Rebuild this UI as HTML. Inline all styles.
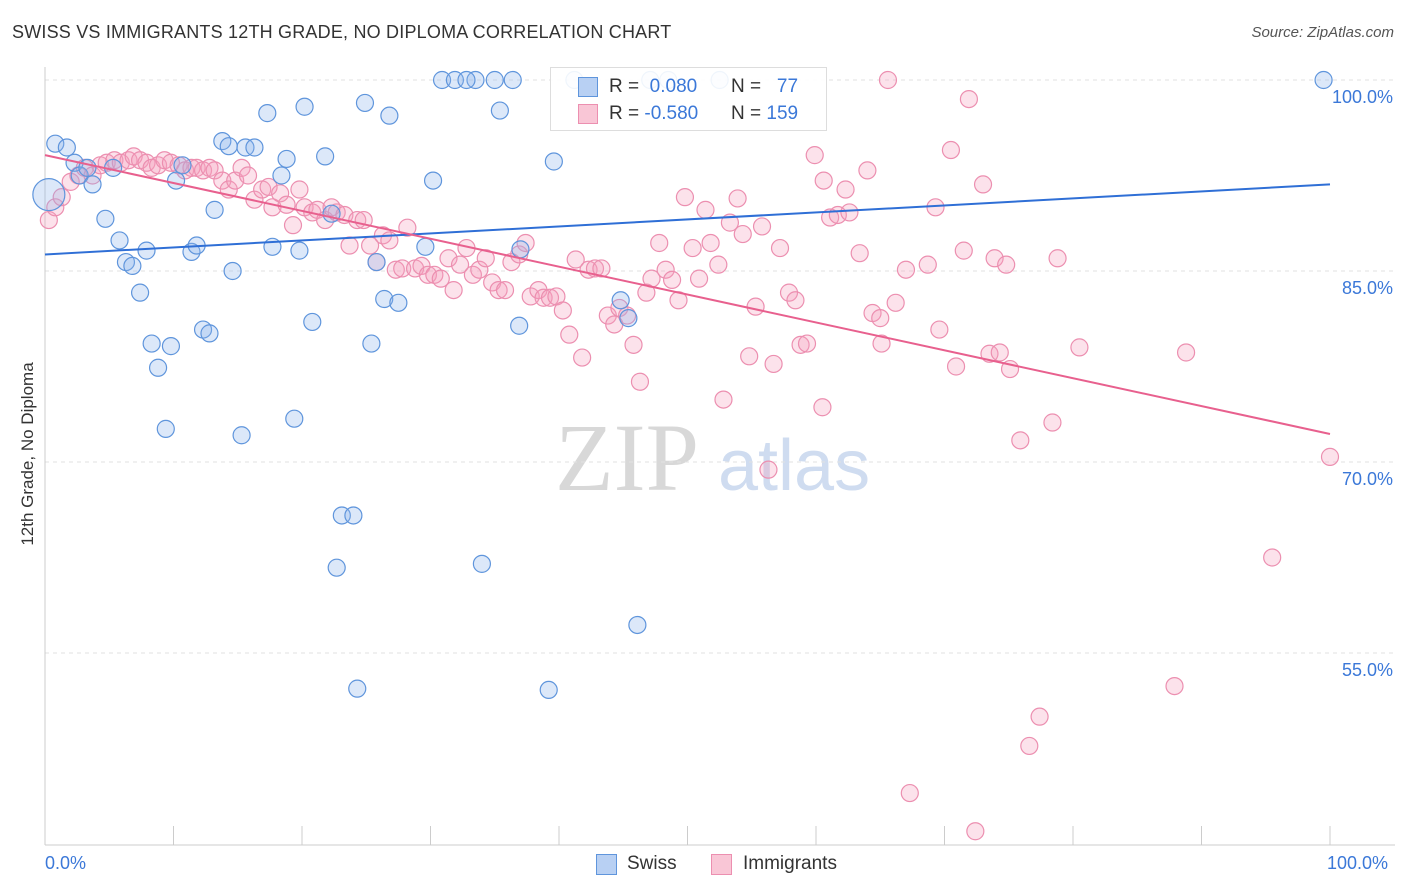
<!DOCTYPE html>
<html><head><meta charset="utf-8"><style>
body{margin:0;background:#fff;font-family:"Liberation Sans",sans-serif;}
#wrap{position:relative;width:1406px;height:892px;overflow:hidden;}
.t{position:absolute;white-space:nowrap;}
</style></head><body>
<div id="wrap">
<div class="t" style="left:12px;top:22px;font-size:18px;color:#333;letter-spacing:0.2px">SWISS VS IMMIGRANTS 12TH GRADE, NO DIPLOMA CORRELATION CHART</div>
<div class="t" style="right:12px;top:24px;font-size:15px;color:#555;font-style:italic">Source: ZipAtlas.com</div>
<svg id="svg" width="1406" height="892" style="position:absolute;left:0;top:0"></svg>
</div>
<script>
const swissX=[0.8,1.7,2.3,2.7,3.3,3.7,4.7,5.3,5.8,6.3,6.8,7.4,7.9,8.3,8.8,9.4,9.8,10.2,10.7,11.4,11.8,12.3,12.8,13.2,13.8,14.3,14.6,15.3,15.6,16.3,17.3,17.7,18.4,18.8,19.4,19.8,20.2,20.8,21.8,22.3,22.7,23.1,24.0,24.3,24.9,25.4,25.8,26.4,26.8,27.5,29.6,30.2,30.9,31.9,33.5,34.0,35.0,35.4,36.4,36.9,37.0,39.2,39.6,41.2,44.8,45.4,46.1,47.1,48.5,99.5,0.3,32.8,52.5];
const swissY=[95.0,94.7,93.5,92.5,93.1,91.8,89.1,93.1,87.4,85.7,85.4,83.3,86.6,79.3,77.4,72.6,79.1,92.1,93.3,86.5,87.0,80.4,80.1,89.8,95.2,94.8,85.0,72.1,94.7,94.7,97.4,86.9,92.5,93.8,73.4,86.6,97.9,81.0,94.0,89.5,61.7,65.8,65.8,52.2,98.2,79.3,85.7,82.8,97.2,82.5,86.9,92.1,100,100,100,62.0,100,97.6,100,80.7,86.7,52.1,93.6,100,82.7,81.3,57.2,100,100,100,91.0,100,100];
const immX=[
0.3,0.8,1.3,2.0,2.6,3.1,3.7,4.3,4.8,5.4,
5.9,6.5,6.9,7.4,7.9,8.3,8.8,9.3,9.8,10.4,
10.9,11.4,11.8,12.3,12.8,13.2,13.8,14.3,14.8,15.3,
15.8,16.3,16.9,17.4,17.7,18.3,18.8,19.3,19.8,20.2,
20.8,21.2,21.8,22.3,22.7,23.3,23.7,24.3,24.8,25.3,
25.8,26.3,26.8,27.3,27.8,28.2,28.8,29.3,29.8,30.3,
30.8,31.4,31.8,32.3,32.8,33.3,33.8,34.3,34.8,35.3,
35.8,36.3,36.9,37.4,37.8,38.4,38.8,39.3,39.8,40.3,
40.8,41.3,41.8,42.3,42.8,43.3,43.8,44.3,44.7,45.3,
45.8,46.3,46.8,47.2,47.8,48.3,48.8,49.3,49.8,50.4,
50.9,51.4,51.8,52.4,52.8,53.3,53.9,54.3,54.8,55.3,
55.8,56.3,56.7,57.2,57.9,58.4,58.8,59.3,59.9,60.5,
60.6,61.1,61.7,62.3,62.6,63.4,64.0,64.4,65.0,65.1,
65.6,66.2,67.0,67.3,68.7,69.3,69.6,70.5,70.9,71.5,
71.9,73.0,73.5,73.9,74.3,74.8,75.1,75.9,76.6,77.4,
78.4,78.8,80.5,87.9,88.8,95.5,100,72.4];
const immY=[
89.0,90.0,90.8,92.0,92.5,93.1,92.5,93.3,93.5,93.7,
93.5,93.7,94.0,93.7,93.5,93.1,93.3,93.7,93.5,93.3,
92.9,93.1,93.1,92.9,93.1,92.9,92.1,91.4,92.1,93.1,
92.5,90.6,91.4,91.6,90.0,91.1,90.2,88.6,91.4,90.0,
89.6,89.8,89.0,90.0,89.6,89.4,87.0,89.0,89.0,87.0,
85.7,87.8,87.4,85.1,85.2,88.4,85.2,85.4,84.7,84.7,
84.4,86.0,83.5,85.5,86.8,84.7,85.1,86.0,84.1,83.5,
83.5,85.7,86.3,87.2,83.0,83.5,82.9,82.9,83.0,81.9,
80.0,85.9,78.2,85.1,85.2,85.2,81.5,80.8,82.1,81.5,
79.2,76.3,83.3,84.4,87.2,85.1,84.3,82.7,90.8,86.8,
84.4,89.8,87.2,85.5,74.9,88.8,90.7,87.9,78.3,82.2,
88.5,69.4,77.7,86.8,83.3,82.7,79.2,79.3,94.1,74.3,
92.1,89.2,89.4,91.4,89.6,86.4,92.9,81.7,81.3,79.3,
100,82.5,85.1,44.0,85.5,90.0,80.4,94.5,77.5,86.6,
98.5,91.8,78.5,86.0,78.6,85.5,77.3,71.7,47.7,50.0,
73.1,86.0,79.0,52.4,78.6,62.5,70.4,41.0];
const swissTrend=[86.3,91.8], immTrend=[94.1,72.2];
const yTicks=[100,85,70,55], yLabels=["100.0%","85.0%","70.0%","55.0%"];
const NS="http://www.w3.org/2000/svg", svg=document.getElementById('svg');
const sx=v=>45+v*12.85, sy=v=>80+(100-v)*12.733;
function mk(tag,at,p){const e=document.createElementNS(NS,tag);for(const k in at)e.setAttribute(k,at[k]);(p||svg).appendChild(e);return e;}
let w=mk('text',{x:555,y:490,'font-size':96,'font-family':'Liberation Serif,serif',fill:'#d8d8d8'});w.textContent='ZIP';


let w2=mk('text',{x:718,y:490,'font-size':72,'font-family':'Liberation Sans,sans-serif',fill:'#cfdcf0'});w2.textContent='atlas';


yTicks.forEach((t,i)=>{
 const g=mk('line',{x1:45,x2:1395,y1:sy(t),y2:sy(t),stroke:'#e2e2e2','stroke-dasharray':'4,4'});
 
 
 const l=mk('text',{x:1393,y:sy(t)+23,'text-anchor':'end','font-size':18,fill:'#3b78d8','font-family':'Liberation Sans,sans-serif'});l.textContent=yLabels[i];
 
 
});
const ax=mk('line',{x1:45,x2:45,y1:67,y2:845,stroke:'#ccc'});


const bx=mk('line',{x1:45,x2:1395,y1:845,y2:845,stroke:'#ccc'});


for(let i=0;i<=10;i++){const tk=mk('line',{x1:sx(i*10),x2:sx(i*10),y1:826,y2:845,stroke:'#ccc'});
 
 }
function pts(X,Y,fill,stroke,name){X.forEach((x,i)=>{const c=mk('circle',{cx:sx(x),cy:sy(Y[i]),r:(name==='swiss'&&i===70)?16:8.5,fill:fill,stroke:stroke,'stroke-width':1.2});
 
 });}
pts(immX,immY,'rgba(244,160,190,0.3)','#ec8fb0','immigrants');
pts(swissX,swissY,'rgba(140,180,235,0.3)','#5f95dc','swiss');
const l1=mk('line',{x1:sx(0),y1:sy(swissTrend[0]),x2:sx(100),y2:sy(swissTrend[1]),stroke:'#2f6fd6','stroke-width':2});


const l2=mk('line',{x1:sx(0),y1:sy(immTrend[0]),x2:sx(100),y2:sy(immTrend[1]),stroke:'#e8608e','stroke-width':2});


</script>
<div class="t" style="left:-122px;top:444px;width:300px;text-align:center;transform:rotate(-90deg);font-size:17px;color:#333">12th Grade, No Diploma</div>
<div class="t" style="left:45px;top:853px;font-size:18px;color:#3b78d8">0.0%</div>
<div class="t" style="left:1327px;top:853px;font-size:18px;color:#3b78d8">100.0%</div>
<div style="position:absolute;left:550px;top:67px;width:275px;height:62px;border:1px solid #ddd;background:rgba(255,255,255,0.9);font-size:19px;color:#333">
 <div style="position:absolute;left:27px;top:9px;width:18px;height:18px;background:#b8d0f3;border:1px solid #5f95dc"></div>
 <div class="t" style="left:58px;top:8px">R = <span style="color:#3b78d8">&nbsp;0.080</span></div>
 <div class="t" style="left:180px;top:8px">N = <span style="color:#3b78d8">&nbsp;&nbsp;77</span></div>
 <div style="position:absolute;left:27px;top:36px;width:18px;height:18px;background:#f9c6d6;border:1px solid #ec8fb0"></div>
 <div class="t" style="left:58px;top:35px">R = <span style="color:#3b78d8">-0.580</span></div>
 <div class="t" style="left:180px;top:35px">N = <span style="color:#3b78d8">159</span></div>
</div>
<div style="position:absolute;left:596px;top:854px;width:19px;height:19px;background:#b8d0f3;border:1px solid #5f95dc"></div>
<div class="t" style="left:627px;top:853px;font-size:19px;color:#333">Swiss</div>
<div style="position:absolute;left:711px;top:854px;width:19px;height:19px;background:#f9c6d6;border:1px solid #ec8fb0"></div>
<div class="t" style="left:743px;top:853px;font-size:19px;color:#333">Immigrants</div>
</body></html>
